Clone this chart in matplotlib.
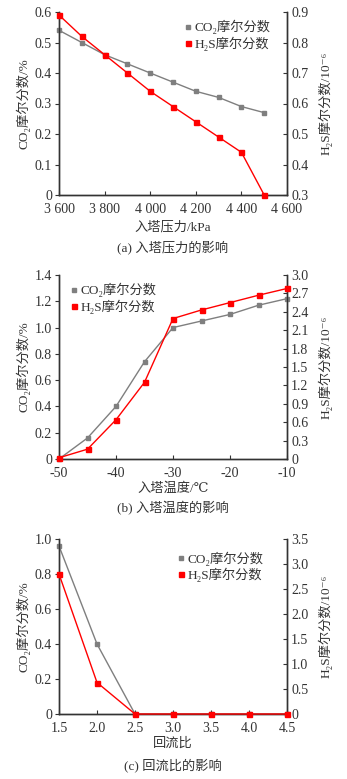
import matplotlib
matplotlib.use("Agg")
import matplotlib.pyplot as plt
from matplotlib.ticker import FixedLocator, FuncFormatter

plt.rcParams['font.family'] = ['Liberation Serif', 'DejaVu Serif', 'Noto Sans CJK SC']
plt.rcParams['axes.unicode_minus'] = False

TXT = '#333333'
GRAY = '#7f7f7f'
RED = '#ff0000'

# (a) inlet pressure
pressure = [3600, 3700, 3800, 3900, 4000, 4100, 4200, 4300, 4400, 4500]
co2_a = [0.54, 0.50, 0.46, 0.43, 0.40, 0.37, 0.34, 0.32, 0.29, 0.27]
h2s_a = [0.89, 0.82, 0.76, 0.70, 0.64, 0.59, 0.54, 0.49, 0.44, 0.30]
xt_a = [3600, 3800, 4000, 4200, 4400, 4600]
yl_a = [0, 0.1, 0.2, 0.3, 0.4, 0.5, 0.6]
yr_a = [0.3, 0.4, 0.5, 0.6, 0.7, 0.8, 0.9]

# (b) inlet temperature
temperature = [-50, -45, -40, -35, -30, -25, -20, -15, -10]
co2_b = [0.0, 0.16, 0.40, 0.74, 1.00, 1.05, 1.10, 1.17, 1.22]
h2s_b = [0.02, 0.16, 0.64, 1.25, 2.29, 2.43, 2.55, 2.67, 2.78]
xt_b = [-50, -40, -30, -20, -10]
yl_b = [0, 0.2, 0.4, 0.6, 0.8, 1.0, 1.2, 1.4]
yr_b = [0, 0.3, 0.6, 0.9, 1.2, 1.5, 1.8, 2.1, 2.4, 2.7, 3.0]

# (c) reflux ratio
reflux = [1.5, 2.0, 2.5, 3.0, 3.5, 4.0, 4.5]
co2_c = [0.96, 0.40, 0.0, 0.0, 0.0, 0.0, 0.0]
h2s_c = [2.80, 0.63, 0.0, 0.0, 0.0, 0.0, 0.0]
xt_c = [1.5, 2.0, 2.5, 3.0, 3.5, 4.0, 4.5]
yl_c = [0, 0.2, 0.4, 0.6, 0.8, 1.0]
yr_c = [0, 0.5, 1.0, 1.5, 2.0, 2.5, 3.0, 3.5]

co2_name = 'CO\u2082摩尔分数'
h2s_name = 'H\u2082S摩尔分数'
ylab_l = 'CO\u2082摩尔分数/%'
ylab_r = 'H\u2082S摩尔分数/10\u207b\u2076'


def fmt_one(v, _=None):
    return '0' if abs(v) < 1e-12 else f'{v:.1f}'


def fmt_thousand(v, _=None):
    return f'{int(v):,}'.replace(',', ' ')


def fmt_int(v, _=None):
    return f'{int(v)}'


fig = plt.figure(figsize=(3.47, 7.79), dpi=100)
W, H = 347.0, 779.0


def panel(top, bottom, x, co2, h2s, xt, yl, yr, xfmt, xlab, cap, leg_xy,
          xlabel_y, cap_y):
    ax = fig.add_axes([59 / W, (H - bottom) / H, 228 / W, (bottom - top) / H])
    ax2 = ax.twinx()
    l1, = ax.plot(x, co2, color=GRAY, lw=1.0, marker='s', ms=3.2,
                  mfc=GRAY, mec=GRAY, zorder=3, clip_on=False)
    l2, = ax2.plot(x, h2s, color=RED, lw=1.0, marker='s', ms=3.6,
                   mfc=RED, mec=RED, zorder=3, clip_on=False)
    ax.set_xlim(xt[0], xt[-1])
    ax.set_ylim(yl[0], yl[-1])
    ax2.set_ylim(yr[0], yr[-1])
    ax.xaxis.set_major_locator(FixedLocator(xt))
    ax.yaxis.set_major_locator(FixedLocator(yl))
    ax2.yaxis.set_major_locator(FixedLocator(yr))
    ax.xaxis.set_major_formatter(FuncFormatter(xfmt))
    ax.yaxis.set_major_formatter(FuncFormatter(fmt_one))
    ax2.yaxis.set_major_formatter(FuncFormatter(fmt_one))
    for a in (ax, ax2):
        a.spines['top'].set_visible(False)
        for s in a.spines.values():
            s.set_color('#333333')
            s.set_linewidth(1.0)
    ax.tick_params(axis='y', direction='out', length=3, width=0.8,
                   colors='#333333', labelsize=10, pad=2, labelcolor=TXT)
    ax.tick_params(axis='x', direction='in', length=3, width=0.8,
                   colors='#333333', labelsize=10, pad=6, labelcolor=TXT)
    ax2.tick_params(axis='y', direction='in', length=3, width=0.8,
                    colors='#333333', labelsize=10, pad=3, labelcolor=TXT)
    ax.set_ylabel(ylab_l, fontsize=9.5, color=TXT, labelpad=3)
    ax2.set_ylabel(ylab_r, fontsize=9.5, color=TXT, labelpad=7, rotation=90)
    leg = ax.legend([l1, l2], [co2_name, h2s_name], loc='upper left',
                    bbox_to_anchor=leg_xy, frameon=False, fontsize=9.5,
                    handlelength=0.4, handletextpad=0.3, labelspacing=0.15,
                    borderaxespad=0, numpoints=1)
    for h in leg.legend_handles:
        h.set_linestyle('None')
    for t in leg.get_texts():
        t.set_color(TXT)
    cx = (59 + 114) / W
    fig.text(cx, 1 - xlabel_y / H, xlab, ha='center', va='center',
             fontsize=9.5, color=TXT)
    fig.text(cx, 1 - cap_y / H, cap, ha='center', va='center',
             fontsize=9.5, color=TXT)
    return ax


panel(12, 195, pressure, co2_a, h2s_a, xt_a, yl_a, yr_a, fmt_thousand,
      '入塔压力/kPa', '(a) 入塔压力的影响', (0.53, 0.985), 227, 247)
panel(275, 459, temperature, co2_b, h2s_b, xt_b, yl_b, yr_b, fmt_int,
      '入塔温度/℃', '(b) 入塔温度的影响', (0.03, 0.985), 489, 508)
panel(539, 714, reflux, co2_c, h2s_c, xt_c, yl_c, yr_c, fmt_one,
      '回流比', '(c) 回流比的影响', (0.50, 0.96), 744, 765)

fig.savefig('out.png', dpi=100)
